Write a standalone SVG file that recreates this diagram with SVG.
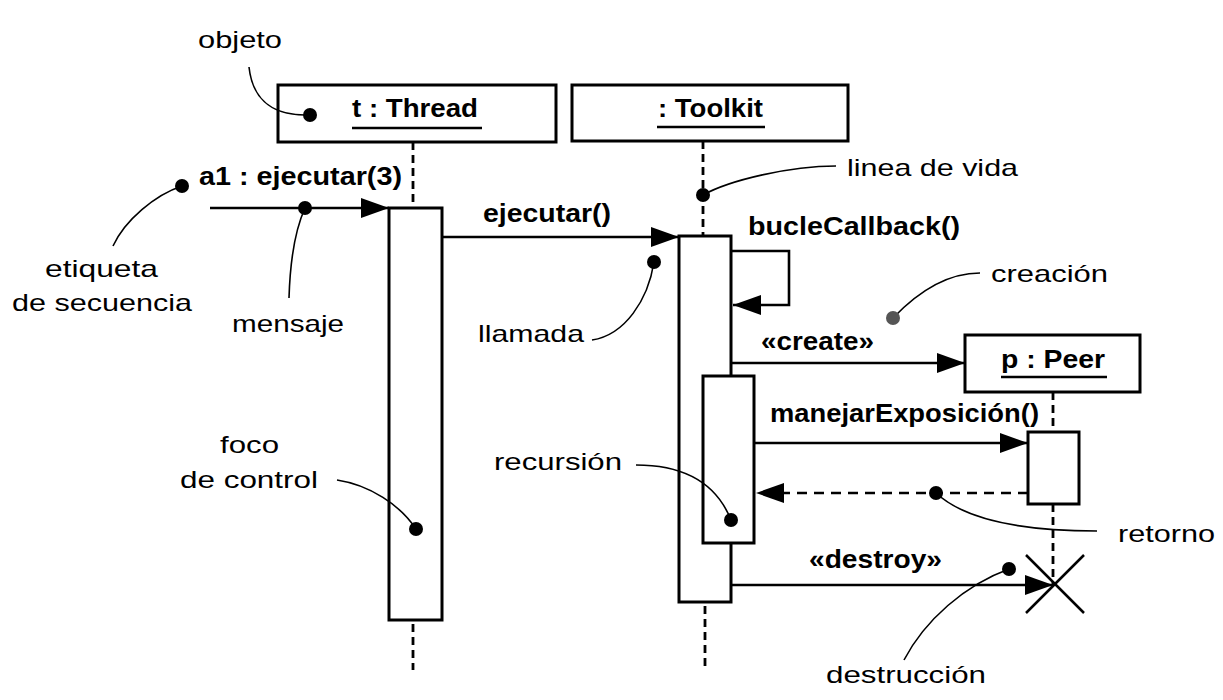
<svg xmlns="http://www.w3.org/2000/svg" width="1223" height="700" viewBox="0 0 1223 700">
<style>
  text { font-family: "Liberation Sans", Arial, Helvetica, sans-serif; fill: #000; }
  .note { font-size: 24px; }
  .lbl { font-size: 25px; font-weight: bold; }
  .obj { font-size: 26px; font-weight: bold; }
  .box { fill: #fff; stroke: #000; stroke-width: 3; }
  .act { fill: #fff; stroke: #000; stroke-width: 3; }
  .life { fill: none; stroke: #000; stroke-width: 2.8; stroke-dasharray: 8 5; }
  .msg { fill: none; stroke: #000; stroke-width: 2.6; marker-end: url(#arrow); }
  .ret { fill: none; stroke: #000; stroke-width: 2.6; stroke-dasharray: 10 7; marker-end: url(#arrow); }
  .lead { fill: none; stroke: #000; stroke-width: 1.6; }
  .dot { fill: #000; }
  .ul { stroke: #000; stroke-width: 2.5; }
</style>
<defs>
  <marker id="arrow" markerUnits="userSpaceOnUse" markerWidth="30" markerHeight="22" refX="28" refY="10" orient="auto">
    <path d="M0,0 L28,10 L0,20 Z" fill="#000"/>
  </marker>
</defs>
<rect width="1223" height="700" fill="#fff"/>

<g id="lifelines">
  <line class="life" x1="413" y1="142" x2="413" y2="208"/>
  <line class="life" x1="413" y1="624" x2="413" y2="670"/>
  <line class="life" x1="703" y1="141" x2="703" y2="236"/>
  <line class="life" x1="705" y1="606" x2="705" y2="670"/>
  <line class="life" x1="1053" y1="392" x2="1053" y2="432"/>
  <line class="life" x1="1053" y1="504" x2="1053" y2="584"/>
</g>

<g id="thread">
  <rect class="box" x="278" y="85" width="278" height="57"/>
  <text class="obj" x="352" y="117" textLength="126" lengthAdjust="spacingAndGlyphs">t : Thread</text>
  <line class="ul" x1="352" y1="128" x2="482" y2="128"/>
  <rect class="act" x="389" y="208" width="53" height="412"/>
</g>

<g id="toolkit">
  <rect class="box" x="572" y="85" width="276" height="56"/>
  <text class="obj" x="658" y="117" textLength="105" lengthAdjust="spacingAndGlyphs">: Toolkit</text>
  <line class="ul" x1="657" y1="127" x2="765" y2="127"/>
  <rect class="act" x="679" y="236" width="52" height="366"/>
  <rect class="act" x="703" y="376" width="51" height="167"/>
</g>

<g id="peer">
  <rect class="box" x="965" y="335" width="175" height="57"/>
  <text class="obj" x="1001" y="368" textLength="104" lengthAdjust="spacingAndGlyphs">p : Peer</text>
  <line class="ul" x1="1001" y1="377" x2="1107" y2="377"/>
  <rect class="act" x="1028" y="432" width="51" height="72"/>
  <line stroke="#000" stroke-width="2.5" x1="1026" y1="555" x2="1084" y2="613"/>
  <line stroke="#000" stroke-width="2.5" x1="1084" y1="555" x2="1026" y2="613"/>
</g>

<g id="connectors">
  <line class="msg" x1="210" y1="208" x2="389" y2="208"/>
  <line class="msg" x1="442" y1="237" x2="679" y2="237"/>
  <path class="msg" d="M731,251 H789 V305 H733"/>
  <line class="msg" x1="731" y1="363" x2="965" y2="363"/>
  <line class="msg" x1="754" y1="443" x2="1028" y2="443"/>
  <line class="ret" x1="1028" y1="493" x2="756" y2="493"/>
  <line class="msg" x1="731" y1="585" x2="1053" y2="585"/>
</g>

<g id="message-labels">
  <text class="lbl" x="199" y="185" textLength="203" lengthAdjust="spacingAndGlyphs">a1 : ejecutar(3)</text>
  <text class="lbl" x="483" y="222" textLength="128" lengthAdjust="spacingAndGlyphs">ejecutar()</text>
  <text class="lbl" x="748" y="235" textLength="212" lengthAdjust="spacingAndGlyphs">bucleCallback()</text>
  <text class="lbl" x="761" y="350" textLength="113" lengthAdjust="spacingAndGlyphs">«create»</text>
  <text class="lbl" x="770" y="422" textLength="269" lengthAdjust="spacingAndGlyphs">manejarExposición()</text>
  <text class="lbl" x="809" y="568" textLength="133" lengthAdjust="spacingAndGlyphs">«destroy»</text>
</g>

<g id="annotations">
  <text class="note" x="198" y="48" textLength="84" lengthAdjust="spacingAndGlyphs">objeto</text>
  <path class="lead" d="M249,67 C252,95 268,115 305,115"/>
  <circle class="dot" cx="310" cy="115" r="7"/>

  <text class="note" x="45" y="277" textLength="113" lengthAdjust="spacingAndGlyphs">etiqueta</text>
  <text class="note" x="12" y="311" textLength="180" lengthAdjust="spacingAndGlyphs">de secuencia</text>
  <path class="lead" d="M182,186 C155,195 125,220 113,246"/>
  <circle class="dot" cx="182" cy="186" r="7"/>

  <text class="note" x="232" y="332" textLength="112" lengthAdjust="spacingAndGlyphs">mensaje</text>
  <path class="lead" d="M305,208 C295,230 290,265 289,298"/>
  <circle class="dot" cx="305" cy="208" r="7"/>

  <text class="note" x="847" y="176" textLength="171" lengthAdjust="spacingAndGlyphs">linea de vida</text>
  <path class="lead" d="M703,195 C730,180 790,166 836,166"/>
  <circle class="dot" cx="703" cy="195" r="7"/>

  <text class="note" x="478" y="342" textLength="106" lengthAdjust="spacingAndGlyphs">llamada</text>
  <path class="lead" d="M592,340 C625,335 648,300 654,262"/>
  <circle class="dot" cx="654" cy="262" r="7"/>

  <text class="note" x="991" y="282" textLength="117" lengthAdjust="spacingAndGlyphs">creación</text>
  <path class="lead" d="M893,318 C915,295 945,273 980,273" stroke="#555"/>
  <circle cx="893" cy="318" r="7" fill="#555"/>

  <text class="note" x="220" y="453" textLength="59" lengthAdjust="spacingAndGlyphs">foco</text>
  <text class="note" x="180" y="488" textLength="138" lengthAdjust="spacingAndGlyphs">de control</text>
  <path class="lead" d="M337,480 C370,485 400,505 416,529"/>
  <circle class="dot" cx="416" cy="529" r="7"/>

  <text class="note" x="494" y="470" textLength="128" lengthAdjust="spacingAndGlyphs">recursión</text>
  <path class="lead" d="M636,465 C680,465 715,480 731,520"/>
  <circle class="dot" cx="731" cy="520" r="7"/>

  <text class="note" x="1118" y="542" textLength="97" lengthAdjust="spacingAndGlyphs">retorno</text>
  <path class="lead" d="M936,493 C965,520 1020,531 1097,531"/>
  <circle class="dot" cx="936" cy="493" r="7"/>

  <text class="note" x="826" y="683" textLength="160" lengthAdjust="spacingAndGlyphs">destrucción</text>
  <path class="lead" d="M1009,569 C965,585 925,620 904,660"/>
  <circle class="dot" cx="1009" cy="569" r="7"/>
</g>
</svg>
